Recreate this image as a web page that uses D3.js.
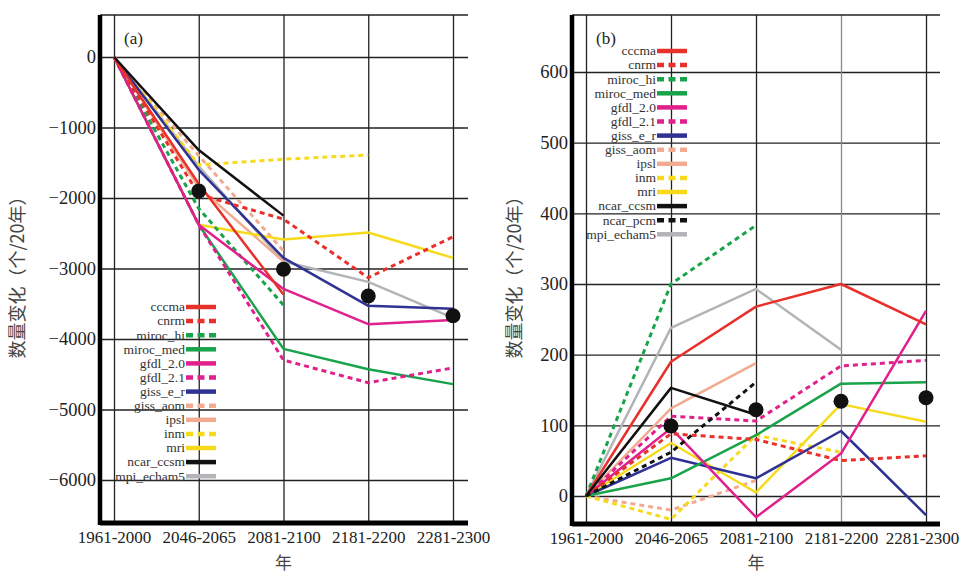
<!DOCTYPE html>
<html>
<head>
<meta charset="utf-8">
<script src="https://cdn.jsdelivr.net/npm/d3@7"></script>
<style>
  body { margin: 0; background: #fff; }
  svg text { font-family: "Liberation Serif", "DejaVu Serif", serif; }
  svg text.cjk { font-family: "Noto Sans CJK SC", sans-serif; }
</style>
</head>
<body>
<svg id="chart" width="960" height="573"></svg>
<script>
// periods on the x axis
const periods = ["1961-2000", "2046-2065", "2081-2100", "2181-2200", "2281-2300"];

// y ticks
const ticksA = [0, -1000, -2000, -3000, -4000, -5000, -6000];
const ticksB = [0, 100, 200, 300, 400, 500, 600];

// legend order
const modelsA = ["cccma", "cnrm", "miroc_hi", "miroc_med", "gfdl_2.0", "gfdl_2.1", "giss_e_r",
  "giss_aom", "ipsl", "inm", "mri", "ncar_ccsm", "mpi_echam5"];
const modelsB = ["cccma", "cnrm", "miroc_hi", "miroc_med", "gfdl_2.0", "gfdl_2.1", "giss_e_r",
  "giss_aom", "ipsl", "inm", "mri", "ncar_ccsm", "ncar_pcm", "mpi_echam5"];

// panel (a) values, one per period (shorter arrays stop early)
const cccmaA     = [0, -1800, -3370];
const cnrmA      = [0, -1950, -2300, -3130, -2550];
const mirocHiA   = [0, -2150, -3520];
const mirocMedA  = [0, -2380, -4140, -4430, -4640];
const gfdl20A    = [0, -2380, -3290, -3790, -3730];
const gfdl21A    = [0, -2380, -4300, -4620, -4410];
const gissErA    = [0, -1600, -2850, -3530, -3570];
const gissAomA   = [0, -1400, -2750];
const ipslA      = [0, -1850, -2900];
const inmA       = [0, -1530, -1450, -1390];
const mriA       = [0, -2380, -2590, -2490, -2850];
const ncarCcsmA  = [0, -1320, -2250];
const mpiA       = [0, -1550, -2900, -3190, -3700];
const meanA      = [null, -1900, -3010, -3390, -3670];

// panel (b) values
const cccmaB     = [0, 190, 268, 300, 243];
const cnrmB      = [0, 88, 80, 50, 57];
const mirocHiB   = [0, 300, 383];
const mirocMedB  = [0, 25, 86, 159, 161];
const gfdl20B    = [0, 96, -30, 60, 262];
const gfdl21B    = [0, 113, 106, 184, 192];
const gissErB    = [0, 54, 25, 92, -27];
const gissAomB   = [0, -20, 22];
const ipslB      = [0, 124, 188];
const inmB       = [0, -33, 86, 62];
const mriB       = [0, 75, 5, 130, 105];
const ncarCcsmB  = [0, 153, 115];
const ncarPcmB   = [0, 62, 161];
const mpiB       = [0, 238, 293, 207];
const meanB      = [null, 99, 122, 134, 139];

const valuesA = {
  "cccma": cccmaA, "cnrm": cnrmA, "miroc_hi": mirocHiA, "miroc_med": mirocMedA,
  "gfdl_2.0": gfdl20A, "gfdl_2.1": gfdl21A, "giss_e_r": gissErA, "giss_aom": gissAomA,
  "ipsl": ipslA, "inm": inmA, "mri": mriA, "ncar_ccsm": ncarCcsmA, "mpi_echam5": mpiA
};
const valuesB = {
  "cccma": cccmaB, "cnrm": cnrmB, "miroc_hi": mirocHiB, "miroc_med": mirocMedB,
  "gfdl_2.0": gfdl20B, "gfdl_2.1": gfdl21B, "giss_e_r": gissErB, "giss_aom": gissAomB,
  "ipsl": ipslB, "inm": inmB, "mri": mriB, "ncar_ccsm": ncarCcsmB, "ncar_pcm": ncarPcmB,
  "mpi_echam5": mpiB
};

// line styles
const style = {
  "cccma":      { c: "#e8312b", dash: false },
  "cnrm":       { c: "#e8312b", dash: true },
  "miroc_hi":   { c: "#19a34a", dash: true },
  "miroc_med":  { c: "#19a34a", dash: false },
  "gfdl_2.0":   { c: "#e0208c", dash: false },
  "gfdl_2.1":   { c: "#e0208c", dash: true },
  "giss_e_r":   { c: "#2f3292", dash: false },
  "giss_aom":   { c: "#f2ab90", dash: true },
  "ipsl":       { c: "#f2ab90", dash: false },
  "inm":        { c: "#f7da1c", dash: true },
  "mri":        { c: "#f7da1c", dash: false },
  "ncar_ccsm":  { c: "#111111", dash: false },
  "ncar_pcm":   { c: "#111111", dash: true },
  "mpi_echam5": { c: "#b2b4b8", dash: false }
};
// draw order (bottom to top)
const drawOrder = ["mpi_echam5", "ipsl", "giss_aom", "inm", "mri", "giss_e_r", "miroc_med",
  "miroc_hi", "gfdl_2.1", "gfdl_2.0", "cnrm", "cccma", "ncar_pcm", "ncar_ccsm"];

const svg = d3.select("#chart");

function fmt(v) {
  return v < 0 ? "\u2212" + Math.abs(v) : String(v);
}

function panel(cfg) {
  const g = svg.append("g");
  const x = d3.scalePoint().domain(periods).range([cfg.x0, cfg.x1]);
  const y = d3.scaleLinear().domain(cfg.yDomain).range(cfg.yRange);

  // y gridlines + labels
  const yAxis = d3.axisLeft(y)
    .tickValues(cfg.ticks)
    .tickSize(-(cfg.right - cfg.left))
    .tickPadding(4)
    .tickFormat(fmt);
  g.append("g")
    .attr("transform", "translate(" + cfg.left + ",0)")
    .call(yAxis)
    .call(a => a.select(".domain").remove())
    .call(a => a.selectAll("line").attr("stroke", "#222").attr("stroke-width", 1.3))
    .call(a => a.selectAll("text").attr("font-size", 18.5).attr("fill", "#222"));

  // x gridlines + labels
  const xAxis = d3.axisBottom(x)
    .tickSize(-(cfg.bottom - cfg.top))
    .tickPadding(8);
  g.append("g")
    .attr("transform", "translate(0," + cfg.bottom + ")")
    .call(xAxis)
    .call(a => a.select(".domain").remove())
    .call(a => a.selectAll("line")
      .attr("stroke", (d, i) => cfg.grayCol === i ? "#8a8a8a" : "#222")
      .attr("stroke-width", 1.3))
    .call(a => a.selectAll("text").attr("font-size", 17).attr("fill", "#222")
      .attr("dx", (d, i) => i === periods.length - 1 ? cfg.lastDx : 0));

  // frame
  g.append("line").attr("x1", cfg.left).attr("x2", cfg.right)
    .attr("y1", cfg.top).attr("y2", cfg.top)
    .attr("stroke", "#222").attr("stroke-width", 1.5);
  g.append("line").attr("x1", cfg.left).attr("x2", cfg.left)
    .attr("y1", cfg.top).attr("y2", cfg.bottom + 2)
    .attr("stroke", "#000").attr("stroke-width", 4.5);
  g.append("line").attr("x1", cfg.left).attr("x2", cfg.right)
    .attr("y1", cfg.bottom).attr("y2", cfg.bottom)
    .attr("stroke", "#000").attr("stroke-width", 5);

  // series
  const line = d3.line()
    .defined(d => d != null)
    .x((d, i) => x(periods[i]))
    .y(d => y(d));
  drawOrder.filter(m => cfg.values[m]).forEach(m => {
    const s = style[m];
    g.append("path")
      .datum(cfg.values[m])
      .attr("d", line)
      .attr("fill", "none")
      .attr("stroke", s.c)
      .attr("stroke-width", s.dash ? 3 : 2.5)
      .attr("stroke-dasharray", s.dash ? "5,4" : null)
      .attr("stroke-linejoin", "round");
  });

  // ensemble mean dots
  g.selectAll("circle.mean")
    .data(cfg.mean.map((v, i) => ({ v, p: periods[i] })).filter(d => d.v != null))
    .join("circle")
    .attr("cx", d => x(d.p))
    .attr("cy", d => y(d.v))
    .attr("r", 7.5)
    .attr("fill", "#111");

  // legend
  const lg = g.append("g");
  cfg.models.forEach((m, i) => {
    const ly = cfg.legY + i * 14.1;
    const s = style[m];
    lg.append("text")
      .attr("x", cfg.legX).attr("y", ly).attr("dy", "0.32em")
      .attr("text-anchor", "end")
      .attr("font-size", 13.5).attr("fill", "#333")
      .text(m);
    lg.append("line")
      .attr("x1", cfg.legX + 1).attr("x2", cfg.legX + 31)
      .attr("y1", ly).attr("y2", ly)
      .attr("stroke", s.c).attr("stroke-width", 4.5)
      .attr("stroke-dasharray", s.dash ? "7,4.5" : null);
  });

  // panel label
  g.append("text").attr("x", cfg.left + 24).attr("y", 44)
    .attr("font-size", 17).attr("fill", "#222").text(cfg.label);

  // axis titles
  g.append("text")
    .attr("class", "cjk")
    .attr("transform", "translate(" + cfg.yTitleX + ",273) rotate(-90)")
    .attr("text-anchor", "middle").attr("dy", "0.35em")
    .attr("font-size", 18).attr("fill", "#444")
    .text("数量变化（个/20年）");
  g.append("text")
    .attr("class", "cjk")
    .attr("x", (cfg.x0 + cfg.x1) / 2).attr("y", 569)
    .attr("text-anchor", "middle")
    .attr("font-size", 17).attr("fill", "#444")
    .text("年");
}

panel({
  label: "(a)", left: 100, right: 468, top: 15, bottom: 523,
  x0: 114, x1: 453, yDomain: [0, -6000], yRange: [57, 480], ticks: ticksA,
  values: valuesA, mean: meanA, models: modelsA,
  legX: 185, legY: 307, yTitleX: 18, grayCol: -1, lastDx: 0
});
panel({
  label: "(b)", left: 572, right: 940, top: 15, bottom: 524,
  x0: 586, x1: 926, yDomain: [0, 600], yRange: [496, 72], ticks: ticksB,
  values: valuesB, mean: meanB, models: modelsB,
  legX: 656, legY: 51, yTitleX: 515, grayCol: 3, lastDx: -4
});
</script>
</body>
</html>
